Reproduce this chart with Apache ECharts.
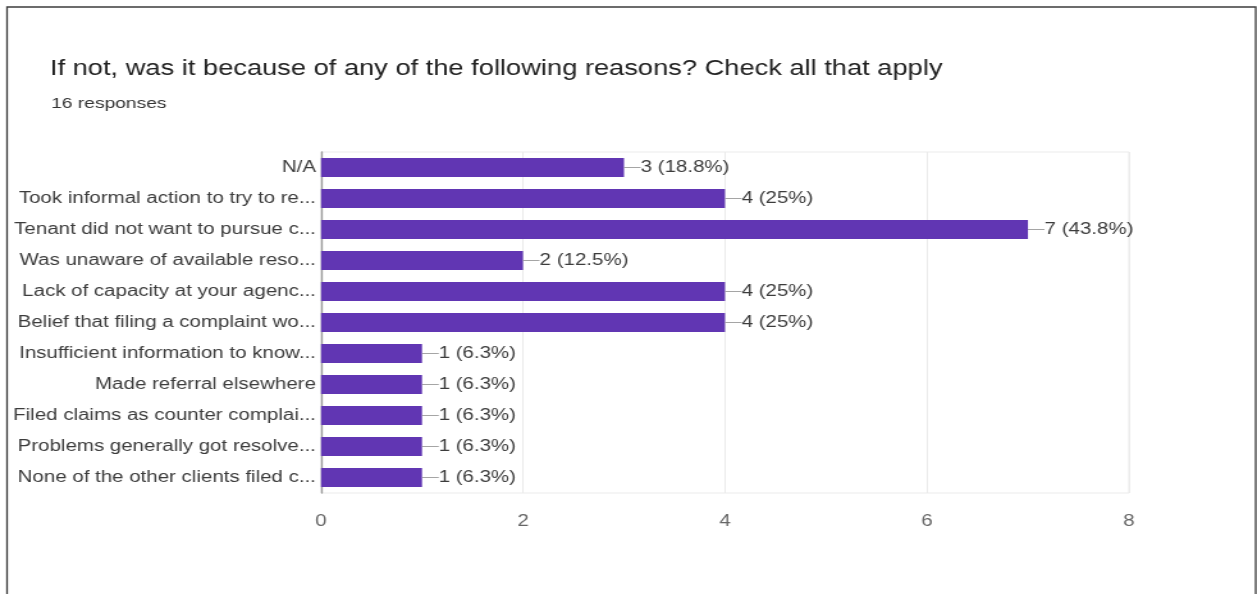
<!DOCTYPE html>
<html>
<head>
<meta charset="utf-8">
<title>If not, was it because of any of the following reasons?</title>
<script src="https://cdn.jsdelivr.net/npm/echarts@6/dist/echarts.min.js"></script>
<style>
  html, body { margin: 0; padding: 0; background: #ffffff; overflow: hidden; }
  /* The chart is laid out on a narrower canvas and widened, giving the wide lettering */
  #chart { width: 982px; height: 594px; transform: scaleX(1.28); transform-origin: 0 0; }
</style>
</head>
<body>
<div id="chart"></div>
<script>
// Survey question and response count
const questionTitle = 'If not, was it because of any of the following reasons? Check all that apply';
const responseCount = 16;

// Answer options (top to bottom) and how many respondents picked each
const reasons = [
  'N/A',
  'Took informal action to try to re...',
  'Tenant did not want to pursue c...',
  'Was unaware of available reso...',
  'Lack of capacity at your agenc...',
  'Belief that filing a complaint wo...',
  'Insufficient information to know...',
  'Made referral elsewhere',
  'Filed claims as counter complai...',
  'Problems generally got resolve...',
  'None of the other clients filed c...'
];
const counts = [3, 4, 7, 2, 4, 4, 1, 1, 1, 1, 1];

// Value axis ticks
const axisTicks = [0, 2, 4, 6, 8];

const FONT = 'Arial, "Liberation Sans", sans-serif';
const chart = echarts.init(document.getElementById('chart'), null, { renderer: 'canvas' });

const pct = v => String(Math.round(v / responseCount * 1000) / 10);

chart.setOption({
  animation: false,
  backgroundColor: '#ffffff',
  graphic: [{
    type: 'rect',
    shape: { x: 5.5, y: 7, width: 975.5, height: 640 },
    style: { fill: 'none', stroke: '#3c3c3c', lineWidth: 1.3 },
    silent: true
  }],
  title: [{
    text: questionTitle,
    left: 34,
    top: 54,
    textStyle: { fontFamily: FONT, fontSize: 21.3, fontWeight: 'normal', color: '#222222' }
  }, {
    text: responseCount + ' responses',
    left: 35,
    top: 91,
    textStyle: { fontFamily: FONT, fontSize: 15, fontWeight: 'normal', color: '#333333' }
  }],
  grid: {
    left: 250.8,
    right: 100,
    top: 152,
    bottom: 101,
    show: true,
    borderColor: '#ebebeb',
    borderWidth: 1,
    containLabel: false
  },
  xAxis: {
    type: 'value',
    min: axisTicks[0],
    max: axisTicks[axisTicks.length - 1],
    interval: axisTicks[1] - axisTicks[0],
    axisLine: { show: false },
    axisTick: { show: false },
    splitLine: { show: true, lineStyle: { color: '#ebebeb', width: 1 } },
    axisLabel: { margin: 21, fontFamily: FONT, fontSize: 16, color: '#666666' }
  },
  yAxis: {
    type: 'category',
    inverse: true,
    data: reasons,
    axisLine: { show: true, lineStyle: { color: '#999999', width: 1.3 } },
    axisTick: { show: false },
    axisLabel: { margin: 4, fontFamily: FONT, fontSize: 16, color: '#3c3c3c' }
  },
  series: [{
    type: 'bar',
    data: counts,
    barWidth: '62%',
    itemStyle: { color: '#6136b3' },
    label: {
      show: true,
      position: 'right',
      distance: 0,
      formatter: p => '{d|—}{t|' + p.value + ' (' + pct(p.value) + '%)}',
      rich: {
        d: { fontFamily: FONT, fontSize: 13, color: '#9a9a9a' },
        t: { fontFamily: FONT, fontSize: 16, color: '#3c3c3c' }
      }
    }
  }]
});
</script>
</body>
</html>
